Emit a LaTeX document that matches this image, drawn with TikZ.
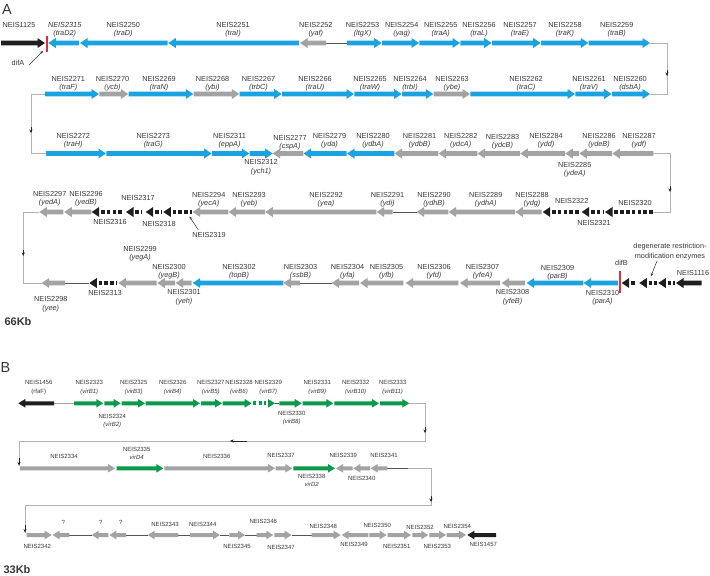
\documentclass[tikz,border=0pt]{standalone}
\usepackage{fontspec}
\newfontfamily\lsans{Liberation Sans}
\usetikzlibrary{arrows.meta}
\definecolor{gblue}{HTML}{1BA3E0}
\definecolor{ggray}{HTML}{A3A3A3}
\definecolor{ggreen}{HTML}{0C9A48}
\definecolor{gblack}{HTML}{1E1E1E}
\definecolor{gred}{HTML}{D8303C}
\definecolor{txt}{HTML}{383838}
\definecolor{snc}{HTML}{B3B3B3}
\definecolor{tlc}{HTML}{555555}
\newcommand{\labf}{\lsans\fontsize{7.3}{8.5}\selectfont}
\def\bh{2.3}\def\hh{5}\def\hl{7.5}\def\bw{4.6pt}\def\lsp{8.3}
\newcommand{\geneF}[4]{\fill[#4] (#1,{#3-\bh}) -- ({#2-\hl},{#3-\bh}) -- ({#2-\hl},{#3-\hh}) -- (#2,#3) -- ({#2-\hl},{#3+\hh}) -- ({#2-\hl},{#3+\bh}) -- (#1,{#3+\bh}) -- cycle;}
\newcommand{\geneR}[4]{\fill[#4] (#1,#3) -- ({#1+\hl},{#3-\hh}) -- ({#1+\hl},{#3-\bh}) -- (#2,{#3-\bh}) -- (#2,{#3+\bh}) -- ({#1+\hl},{#3+\bh}) -- ({#1+\hl},{#3+\hh}) -- cycle;}
\newcommand{\pseuR}[4]{\fill[#4] (#1,#3) -- ({#1+\hl},{#3-\hh}) -- ({#1+\hl},{#3+\hh}) -- cycle; \draw[#4,line width=\bw,dash pattern=on 3.6pt off 2.2pt] ({#1+\hl+1.8},#3) -- (#2,#3);}
\newcommand{\pseuF}[4]{\draw[#4,line width=\bw,dash pattern=on 3.6pt off 2.2pt] (#1,#3) -- ({#2-\hl-1.8},#3); \fill[#4] (#2,#3) -- ({#2-\hl},{#3-\hh}) -- ({#2-\hl},{#3+\hh}) -- cycle;}
\newcommand{\glab}[4]{\node[lab] (n#3) at (#1,#2) {NEIS#3}; \node[lab,font=\labf\itshape] (g#3) at (#1,{#2+\lsp}) {(#4)};}
\newcommand{\slab}[4]{\node[lab] (#1) at (#2,#3) {#4};}
\begin{document}
\begin{tikzpicture}[x=1pt,y=-1pt,
  lab/.style={font=\labf, text=txt, inner sep=0pt, text height=5.2pt, text depth=0pt},
  tl/.style={draw=tlc, line width=0.5pt},
  sn/.style={draw=snc, line width=0.6pt},
  ma/.style={-{Stealth[length=3.5pt,width=3pt]}, draw=black!85, line width=0.5pt},
  pa/.style={-{Stealth[length=3pt,width=2.6pt]}, draw=black!80, line width=0.5pt},
  big/.style={font=\lsans\fontsize{14.5}{16}\selectfont, text=txt, inner sep=0pt},
  kb/.style={font=\lsans\bfseries\fontsize{11}{12}\selectfont, text=txt, inner sep=0pt}]
\useasboundingbox (0,0) rectangle (710,576);
\fill[white] (0,0) rectangle (710,576);
\node[big] (pA) at (7,9.5) {A};
\node[big] (pB) at (5.5,367.7) {B};
\node[kb] (kb66) at (18,322) {66Kb};
\node[kb] (kb33) at (17,569.5) {33Kb};
% ---------- snake connectors A
\coordinate (s1a) at (650,43); \coordinate (s1b) at (667,43); \coordinate (s1c) at (667,94); \coordinate (s1d) at (650,94);
\draw[sn] (s1a) -- (s1b) -- (s1c) -- (s1d);
\draw[ma] (667,70) -- (667,76);
\coordinate (s2a) at (45,94); \coordinate (s2b) at (31,94); \coordinate (s2c) at (31,153.5); \coordinate (s2d) at (46,153.5);
\draw[sn] (s2a) -- (s2b) -- (s2c) -- (s2d);
\draw[ma] (31,127) -- (31,133);
\coordinate (s3a) at (653.3,153.5); \coordinate (s3b) at (670,153.5); \coordinate (s3c) at (670,212); \coordinate (s3d) at (653.3,212);
\draw[sn] (s3a) -- (s3b) -- (s3c) -- (s3d);
\draw[ma] (670,186) -- (670,192);
\coordinate (s4a) at (39.3,212); \coordinate (s4b) at (23.3,212); \coordinate (s4c) at (23.3,283); \coordinate (s4d) at (41.7,283);
\draw[sn] (s4a) -- (s4b) -- (s4c) -- (s4d);
\draw[ma] (23.3,250) -- (23.3,256);
% ---------- row 1
\draw[tl] (326,43) -- (347,43);
\geneF{1}{45}{43}{gblack}
\geneR{48.3}{79}{43}{gblue}
\geneR{80}{167.7}{43}{gblue}
\geneR{168.3}{299}{43}{gblue}
\geneR{300}{326}{43}{ggray}
\geneF{347}{381.7}{43}{gblue}
\geneF{382}{419}{43}{gblue}
\geneF{419.3}{460}{43}{gblue}
\geneF{460.3}{491.7}{43}{gblue}
\geneF{492}{540.7}{43}{gblue}
\geneF{541}{588.3}{43}{gblue}
\geneF{588.6}{650}{43}{gblue}
\draw[gred,line width=2.2pt] (46.6,36) -- (46.6,52);
\slab{n1125}{19}{25}{NEIS1125}
\node[lab,font=\labf\itshape] (n2315) at (64.7,25) {NEIS2315};
\node[lab,font=\labf\itshape] (g2315) at (64.7,33.3) {(traD2)};
\glab{123.3}{25}{2250}{traD}
\glab{233}{25}{2251}{traI}
\glab{315.8}{25}{2252}{yaf}
\glab{362.5}{25}{2253}{ltgX}
\glab{401.7}{25}{2254}{yag}
\glab{440.8}{25}{2255}{traA}
\glab{479}{25}{2256}{traL}
\glab{520}{25}{2257}{traE}
\glab{565}{25}{2258}{traK}
\glab{616.7}{25}{2259}{traB}
\slab{difA}{18}{62.5}{difA}
\coordinate (difAp) at (43,51);
\draw[pa] (29,65) -- (difAp);
% ---------- row 2
\geneF{45}{99}{94}{gblue}
\geneF{99.3}{128.3}{94}{ggray}
\geneF{128.6}{193.3}{94}{gblue}
\geneF{193.6}{239.3}{94}{ggray}
\geneF{239.6}{281.7}{94}{gblue}
\geneF{282}{354}{94}{gblue}
\geneF{354.3}{401.7}{94}{gblue}
\geneF{402}{433.3}{94}{gblue}
\geneF{433.6}{470}{94}{ggray}
\geneF{470.3}{575}{94}{gblue}
\geneF{575.3}{611.7}{94}{gblue}
\geneF{612}{650}{94}{gblue}
\glab{68.3}{78.7}{2271}{traF}
\glab{112.5}{78.7}{2270}{ycb}
\glab{159}{78.7}{2269}{traN}
\glab{212.5}{78.7}{2268}{ybi}
\glab{258.5}{78.7}{2267}{trbC}
\glab{315}{78.7}{2266}{traU}
\glab{370}{78.7}{2265}{traW}
\glab{410}{78.7}{2264}{trbI}
\glab{452}{78.7}{2263}{ybe}
\glab{526}{78.7}{2262}{traC}
\glab{589}{78.7}{2261}{traV}
\glab{630}{78.7}{2260}{dsbA}
% ---------- row 3
\geneF{46}{106}{153.5}{gblue}
\geneF{106.3}{211.7}{153.5}{gblue}
\geneF{212}{249.3}{153.5}{gblue}
\geneF{249.6}{272.7}{153.5}{gblue}
\geneR{272.7}{303.3}{153.5}{ggray}
\geneR{303.6}{346.7}{153.5}{gblue}
\geneR{347}{394.3}{153.5}{gblue}
\geneR{394.6}{438.3}{153.5}{ggray}
\geneR{438.6}{477.3}{153.5}{ggray}
\geneR{477.6}{520}{153.5}{ggray}
\geneR{520.3}{565}{153.5}{ggray}
\geneR{565.3}{579}{153.5}{ggray}
\geneR{579.3}{612}{153.5}{ggray}
\geneR{612.3}{653.3}{153.5}{ggray}
\glab{73.3}{136}{2272}{traH}
\glab{153.3}{136}{2273}{traG}
\glab{229.5}{136}{2311}{eppA}
\glab{261}{162.3}{2312}{ych1}
\glab{290}{137.5}{2277}{cspA}
\glab{329.5}{136}{2279}{yda}
\glab{373}{136}{2280}{ydbA}
\glab{419.5}{136}{2281}{ydbB}
\glab{460.7}{136}{2282}{ydcA}
\glab{502.5}{137}{2283}{ydcB}
\glab{546}{136}{2284}{ydd}
\glab{574.7}{165}{2285}{ydeA}
\glab{599}{136}{2286}{ydeB}
\glab{639}{136}{2287}{ydf}
% ---------- row 4
\draw[tl] (392.7,212) -- (416.7,212);
\geneR{39.3}{63.3}{212}{ggray}
\geneR{64.3}{91.4}{212}{ggray}
\pseuR{91.7}{124}{212}{gblack}
\pseuR{126}{142}{212}{gblack}
\pseuR{145.7}{162}{212}{gblack}
\pseuR{163.3}{192}{212}{gblack}
\geneR{192.7}{228.3}{212}{ggray}
\geneR{228.6}{265}{212}{ggray}
\geneR{265.3}{376.3}{212}{ggray}
\geneR{376.7}{392.7}{212}{ggray}
\geneR{416.7}{448.3}{212}{ggray}
\geneR{448.6}{515}{212}{ggray}
\geneR{515.3}{541.7}{212}{ggray}
\pseuR{542.7}{580}{212}{gblack}
\pseuR{581.7}{603.3}{212}{gblack}
\pseuR{605}{653.3}{212}{gblack}
\glab{49.7}{194}{2297}{yedA}
\glab{86}{194}{2296}{yedB}
\slab{n2317}{138}{198}{NEIS2317}
\slab{n2316}{110}{221.7}{NEIS2316}
\slab{n2318}{159}{224}{NEIS2318}
\slab{n2319}{209}{235}{NEIS2319}
\coordinate (p2319) at (189.5,216.5);
\draw[pa] (198.3,230) -- (p2319);
\glab{208.7}{195}{2294}{yecA}
\glab{249}{195}{2293}{yeb}
\glab{326}{195}{2292}{yea}
\glab{387.5}{195}{2291}{ydi}
\glab{434}{195}{2290}{ydhB}
\glab{485.7}{195}{2289}{ydhA}
\glab{532}{195}{2288}{ydg}
\slab{n2322}{571.7}{200.7}{NEIS2322}
\slab{n2321}{594}{222.7}{NEIS2321}
\slab{n2320}{635}{202.7}{NEIS2320}
% ---------- row 5
\draw[tl] (65,283) -- (89.3,283);
\draw[tl] (300,283) -- (331.7,283);
\geneR{41.7}{65}{283}{ggray}
\pseuR{89.3}{117.3}{283}{gblack}
\geneR{118.3}{156.7}{283}{ggray}
\geneR{157.3}{175}{283}{ggray}
\geneR{175.7}{191.7}{283}{ggray}
\geneR{192.7}{283.3}{283}{gblue}
\geneR{283.6}{300}{283}{ggray}
\geneR{331.7}{359}{283}{ggray}
\geneR{360}{403.3}{283}{ggray}
\geneR{405.7}{458.3}{283}{ggray}
\geneR{460}{500}{283}{ggray}
\geneR{501.7}{525}{283}{ggray}
\geneR{526.7}{583.3}{283}{gblue}
\geneR{583.6}{618}{283}{gblue}
\draw[gred,line width=2.2pt] (619.6,271) -- (619.6,293);
\pseuR{621.7}{636.7}{283}{gblack}
\pseuR{639.3}{656.7}{283}{gblack}
\pseuR{658.3}{675}{283}{gblack}
\geneR{676}{701.7}{283}{gblack}
\glab{50.8}{299.3}{2298}{yee}
\slab{n2313}{105}{293.3}{NEIS2313}
\glab{140}{249}{2299}{yegA}
\glab{169}{266.5}{2300}{yegB}
\glab{184}{292.3}{2301}{yeh}
\glab{239}{266.5}{2302}{topB}
\glab{300.5}{266.5}{2303}{ssbB}
\glab{347.5}{267}{2304}{yfa}
\glab{386.5}{267}{2305}{yfb}
\glab{434}{267}{2306}{yfd}
\glab{482.5}{267}{2307}{yfeA}
\glab{512.5}{292.3}{2308}{yfeB}
\glab{557.5}{268}{2309}{parB}
\glab{602.5}{292.7}{2310}{parA}
\slab{difB}{621.5}{263.3}{difB}
\slab{n1116}{693}{272.7}{NEIS1116}
\slab{deg1}{670}{245.5}{degenerate restriction-}
\slab{deg2}{670}{255.5}{modification enzymes}
\coordinate (degp) at (651,276);
\draw[pa] (657,261) -- (degp);
% ================= PART B
\renewcommand{\labf}{\lsans\fontsize{6}{7}\selectfont}
\def\bh{2}\def\hh{4.3}\def\hl{7}\def\bw{4pt}\def\lsp{8.8}
\tikzset{lab/.style={font=\labf, text=txt, inner sep=0pt, text height=4.3pt, text depth=0pt}}
% connectors B
\coordinate (b1a) at (409,403.3); \coordinate (b1b) at (425,403.3); \coordinate (b1c) at (425,441);
\coordinate (b1d) at (19,441); \coordinate (b1e) at (19,465.5);
\draw[sn] (b1a) -- (b1b) -- (b1c) -- (b1d) -- (b1e);
\draw[ma] (425,427) -- (425,433);
\draw[ma] (247,441) -- (230,441);
\draw[ma] (19,458) -- (b1e);
\coordinate (b2a) at (408.3,468.3); \coordinate (b2b) at (431,468.3); \coordinate (b2c) at (431,505);
\coordinate (b2d) at (25,505); \coordinate (b2e) at (25,532.5);
\draw[tl] (387.3,468.3) -- (b2a);
\draw[sn] (b2a) -- (b2b) -- (b2c) -- (b2d) -- (b2e);
\draw[ma] (431,496) -- (431,502);
\draw[ma] (25,525) -- (b2e);
% row B1
\draw[ggray,line width=1.3pt] (54,403.3) -- (74,403.3);
\draw[tl] (275,403.3) -- (279.3,403.3);
\geneR{18.3}{54}{403.3}{gblack}
\geneF{74}{103.3}{403.3}{ggreen}
\geneF{104.3}{120.7}{403.3}{ggreen}
\geneF{121.7}{145}{403.3}{ggreen}
\geneF{145.7}{200}{403.3}{ggreen}
\geneF{201}{222}{403.3}{ggreen}
\geneF{222.7}{251.7}{403.3}{ggreen}
\pseuF{252.7}{275}{403.3}{ggreen}
\geneF{279.3}{301.7}{403.3}{ggreen}
\geneF{302.7}{333.3}{403.3}{ggreen}
\geneF{334.3}{379}{403.3}{ggreen}
\geneF{380}{409.3}{403.3}{ggreen}
\slab{n1456}{38.7}{382.7}{NEIS1456}
\slab{g1456}{38.7}{391.5}{(rfaF)}
\glab{89.3}{382.7}{2323}{virB1}
\glab{112.3}{416}{2324}{virB2}
\glab{133.7}{382.7}{2325}{virB3}
\glab{172.7}{382.7}{2326}{virB4}
\glab{210.8}{382.7}{2327}{virB5}
\glab{239}{382.7}{2328}{virB6}
\glab{268.3}{382.7}{2329}{virB7}
\glab{291.7}{413}{2330}{virB8}
\glab{317.3}{382.7}{2331}{virB9}
\glab{355.7}{382.7}{2332}{virB10}
\glab{392.7}{382.7}{2333}{virB11}
% row B2
\geneF{20}{115}{468.3}{ggray}
\geneF{116.7}{163.3}{468.3}{ggreen}
\geneF{164.3}{275}{468.3}{ggray}
\geneF{275.7}{292.3}{468.3}{ggray}
\geneF{293.3}{335}{468.3}{ggreen}
\geneR{336}{352.7}{468.3}{ggray}
\geneR{353.3}{370}{468.3}{ggray}
\geneR{370.7}{387.3}{468.3}{ggray}
\slab{n2334}{64}{456.7}{NEIS2334}
\slab{n2335}{136.7}{449.3}{NEIS2335}
\node[lab,font=\labf\itshape] (g2335) at (136.7,457.8) {virD4};
\slab{n2336}{216.7}{456.7}{NEIS2336}
\slab{n2337}{281}{455}{NEIS2337}
\slab{n2338}{311.7}{476}{NEIS2338}
\node[lab,font=\labf\itshape] (g2338) at (311.7,484.8) {virD2};
\slab{n2339}{343.3}{455}{NEIS2339}
\slab{n2340}{361.7}{478.3}{NEIS2340}
\slab{n2341}{384}{455}{NEIS2341}
% row B3
\draw[tl] (69.3,535) -- (91.7,535);
\draw[tl] (126,535) -- (147.7,535);
\draw[tl] (178.3,535) -- (190,535);
\draw[tl] (220,535) -- (229.3,535);
\draw[tl] (245,535) -- (256.7,535);
\draw[tl] (291.7,535) -- (311.7,535);
\geneF{26.7}{51.7}{535}{ggray}
\geneR{52.5}{69.3}{535}{ggray}
\geneR{91.7}{108.3}{535}{ggray}
\geneR{109.3}{126}{535}{ggray}
\geneR{147.7}{178.3}{535}{ggray}
\geneF{190}{220}{535}{ggray}
\geneF{229.3}{245}{535}{ggray}
\geneF{256.7}{273.3}{535}{ggray}
\geneF{274.3}{291.7}{535}{ggray}
\geneF{311.7}{340.7}{535}{ggray}
\geneR{341.7}{368.3}{535}{ggray}
\geneF{369.3}{386.7}{535}{ggray}
\geneF{387.7}{411}{535}{ggray}
\geneF{412.3}{428.3}{535}{ggray}
\geneF{429.3}{446}{535}{ggray}
\geneF{446.7}{466}{535}{ggray}
\geneR{467.3}{496}{535}{gblack}
\slab{n2342}{37.3}{546}{NEIS2342}
\slab{q1}{63.3}{522.7}{?}
\slab{q2}{100.7}{522.7}{?}
\slab{q3}{120.7}{522.7}{?}
\slab{n2343}{165}{524.3}{NEIS2343}
\slab{n2344}{202.7}{524.3}{NEIS2344}
\slab{n2345}{237}{546}{NEIS2345}
\slab{n2346}{263.3}{521.7}{NEIS2346}
\slab{n2347}{281}{547.3}{NEIS2347}
\slab{n2348}{323.3}{526}{NEIS2348}
\slab{n2349}{354}{544}{NEIS2349}
\slab{n2350}{377.3}{525.7}{NEIS2350}
\slab{n2351}{396.7}{546}{NEIS2351}
\slab{n2352}{420}{527.3}{NEIS2352}
\slab{n2353}{437.3}{546}{NEIS2353}
\slab{n2354}{457.3}{526}{NEIS2354}
\slab{n1457}{483.3}{544}{NEIS1457}
\end{tikzpicture}
\end{document}
